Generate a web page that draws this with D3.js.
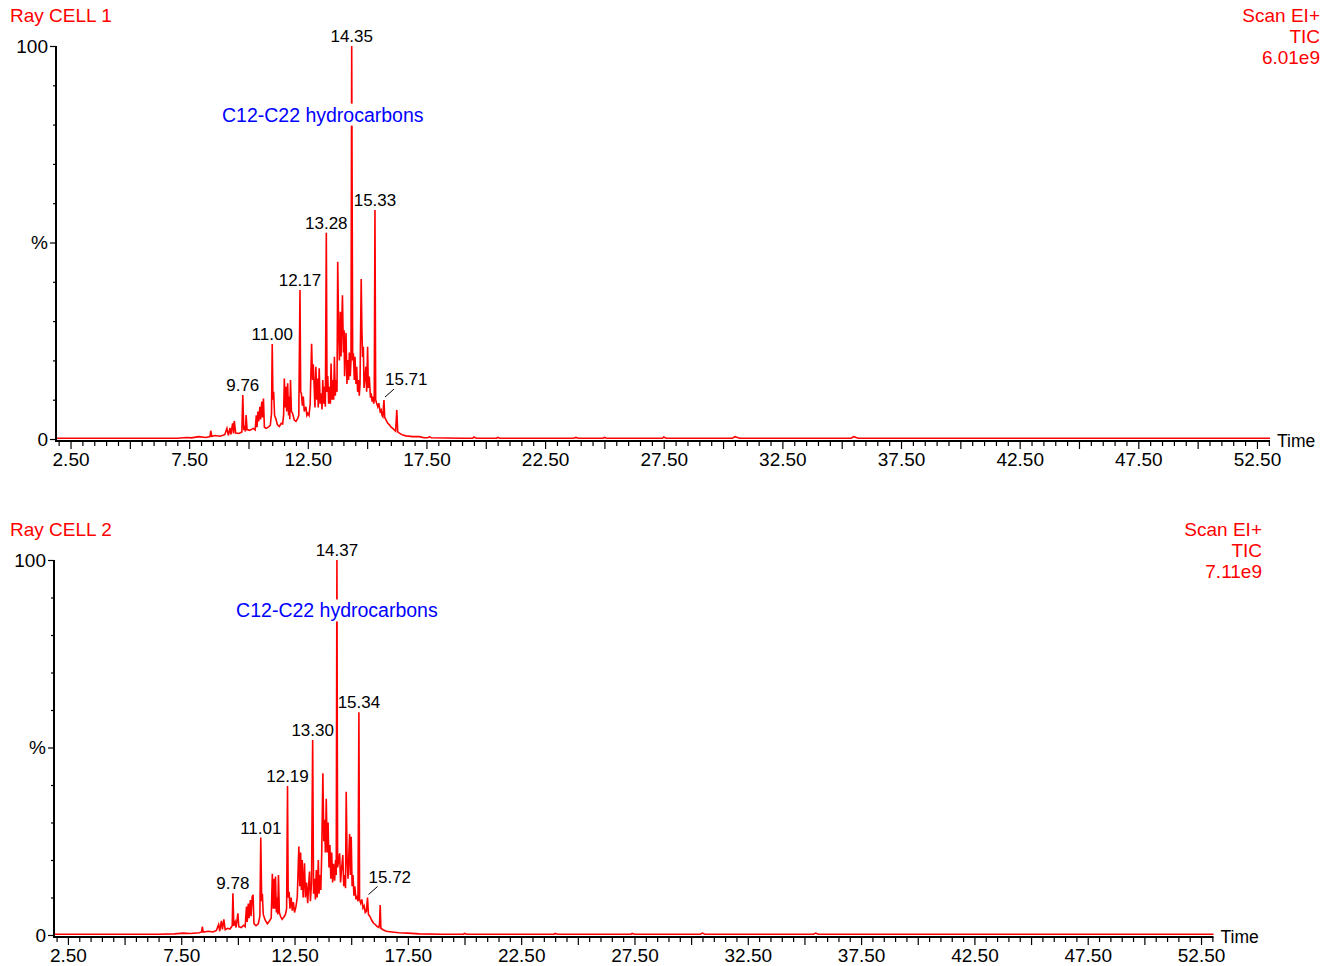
<!DOCTYPE html>
<html>
<head>
<meta charset="utf-8">
<script src="https://cdn.jsdelivr.net/npm/d3@7"></script>
<style>
  html, body { margin: 0; padding: 0; background: #fff; }
  svg { display: block; font-family: "Liberation Sans", Arial, sans-serif; }
</style>
</head>
<body>
<svg id="chart" width="1330" height="966"></svg>
<script>
// ---------------- DATA ----------------
const panelTitles = ["Ray CELL 1", "Ray CELL 2"];
const scanInfo = ["Scan EI+", "TIC"];
const ticIntensity = ["6.01e9", "7.11e9"];
const compoundNote = "C12-C22 hydrocarbons";
const timeDomain = [1.93, 53.05];
const xLabelTicks = [2.5, 7.5, 12.5, 17.5, 22.5, 27.5, 32.5, 37.5, 42.5, 47.5, 52.5];
const yTickLabels = [[0, "0"], [50, "%"], [100, "100"]];

// TIC trace, Ray CELL 1: [time (min), relative intensity (%)]
const cell1Trace = [
  [1.93, 0.2], [7.0, 0.2], [7.4, 0.4], [7.6, 0.3], [7.9, 0.6], [8.2, 0.4], [8.38, 0.6], [8.41, 2.1], [8.45, 0.7],
  [8.6, 0.9], [8.8, 0.7], [9.0, 1.1], [9.09, 2.7], [9.15, 0.9], [9.22, 2.8], [9.26, 1.2], [9.33, 4.0], [9.37, 1.4],
  [9.40, 4.6], [9.46, 1.5], [9.6, 1.4], [9.72, 1.8], [9.76, 11.2], [9.80, 2.3], [9.84, 2.9], [9.87, 1.9], [9.90, 6.1],
  [9.94, 2.4], [10.05, 2.2], [10.2, 2.7], [10.28, 2.3], [10.33, 6.0], [10.36, 3.0], [10.40, 7.0], [10.43, 4.5],
  [10.48, 8.2], [10.51, 5.0], [10.56, 9.5], [10.59, 5.5], [10.63, 10.3], [10.67, 3.0], [10.75, 2.7], [10.85, 3.1],
  [10.92, 3.5], [10.97, 6.5], [11.00, 24.2], [11.03, 10.0], [11.06, 12.0], [11.10, 6.0], [11.16, 5.0], [11.22, 3.6],
  [11.30, 3.2], [11.38, 4.0], [11.44, 3.8], [11.48, 6.0], [11.51, 15.4], [11.55, 8.0], [11.58, 13.3], [11.61, 7.0],
  [11.65, 14.2], [11.69, 6.0], [11.72, 10.8], [11.74, 5.0], [11.77, 15.0], [11.81, 7.0], [11.86, 6.5], [11.93, 4.8],
  [12.00, 4.5], [12.07, 5.2], [12.12, 6.0], [12.17, 37.9], [12.20, 12.0], [12.23, 11.6], [12.27, 8.5], [12.31, 10.8],
  [12.35, 7.0], [12.42, 8.2], [12.46, 6.0], [12.50, 6.5], [12.55, 6.0], [12.60, 9.0], [12.66, 24.2], [12.70, 15.0],
  [12.73, 19.0], [12.77, 13.3], [12.80, 8.0], [12.84, 18.4], [12.88, 10.0], [12.91, 15.4], [12.94, 8.0], [12.98, 18.0],
  [13.02, 9.0], [13.06, 11.6], [13.10, 7.5], [13.13, 15.0], [13.17, 9.0], [13.20, 13.3], [13.24, 8.2], [13.28, 52.5],
  [13.31, 12.0], [13.34, 16.0], [13.38, 9.0], [13.41, 13.3], [13.45, 9.0], [13.48, 19.2], [13.52, 10.0], [13.55, 15.0],
  [13.59, 10.0], [13.62, 20.9], [13.66, 11.0], [13.69, 15.0], [13.73, 12.0], [13.76, 45.1], [13.80, 27.7], [13.83, 20.0],
  [13.87, 32.4], [13.90, 21.0], [13.93, 29.4], [13.96, 36.6], [14.00, 22.0], [14.03, 27.7], [14.05, 16.0], [14.08, 21.8],
  [14.11, 27.0], [14.15, 14.0], [14.18, 20.1], [14.22, 15.0], [14.25, 22.0], [14.29, 16.0], [14.32, 20.0], [14.35, 100],
  [14.39, 20.0], [14.42, 21.8], [14.46, 15.0], [14.49, 20.9], [14.53, 14.0], [14.56, 18.4], [14.60, 12.0], [14.63, 15.0],
  [14.67, 11.0], [14.70, 14.0], [14.75, 40.7], [14.78, 27.7], [14.81, 20.9], [14.84, 23.5], [14.87, 13.0], [14.90, 15.0],
  [14.95, 18.4], [14.98, 12.0], [15.02, 23.5], [15.05, 13.0], [15.09, 15.9], [15.14, 10.5], [15.17, 11.6], [15.21, 9.5],
  [15.24, 10.8], [15.28, 9.0], [15.30, 10.0], [15.33, 58.3], [15.36, 10.0], [15.40, 9.1], [15.45, 8.2], [15.49, 9.1],
  [15.55, 7.0], [15.59, 7.4], [15.63, 6.0], [15.66, 5.7], [15.71, 9.9], [15.74, 5.5], [15.80, 4.8], [15.87, 4.0],
  [15.94, 3.6], [16.01, 3.0], [16.08, 2.7], [16.15, 2.3], [16.20, 2.0], [16.25, 7.4], [16.29, 1.8], [16.36, 1.5],
  [16.50, 1.0], [16.64, 0.8], [16.92, 0.6], [17.2, 0.6], [17.4, 0.3], [17.55, 0.3], [17.63, 0.6], [17.7, 0.3],
  [19.0, 0.2], [19.45, 0.2], [19.5, 0.5], [19.6, 0.2], [20.45, 0.2], [20.5, 0.4], [20.6, 0.2], [23.7, 0.2], [23.8, 0.4],
  [23.9, 0.2], [24.95, 0.2], [25.0, 0.4], [25.1, 0.2], [27.45, 0.2], [27.5, 0.5], [27.6, 0.2], [30.4, 0.2],
  [30.5, 0.6], [30.7, 0.2], [35.4, 0.2], [35.5, 0.6], [35.7, 0.2], [53.05, 0.2]
];
const cell1PeakTimes = [9.76, 11.00, 12.17, 13.28, 14.35, 15.33, 15.71];
const cell1PeakLabels = ["9.76", "11.00", "12.17", "13.28", "14.35", "15.33", "15.71"];
const cell1NoteAt = [13.13, 82.5];

// TIC trace, Ray CELL 2
const cell2Trace = [
  [1.93, 0.2], [6.5, 0.2], [7.2, 0.3], [7.6, 0.5], [7.9, 0.4], [8.3, 0.6], [8.40, 0.8], [8.43, 2.2], [8.47, 0.8],
  [8.7, 1.0], [8.9, 0.8], [9.05, 1.2], [9.15, 2.8], [9.2, 1.0], [9.27, 3.8], [9.32, 1.5], [9.38, 4.2], [9.44, 1.4],
  [9.55, 1.8], [9.65, 1.6], [9.75, 2.5], [9.78, 11.1], [9.82, 2.5], [9.88, 3.5], [9.92, 2.0], [10.00, 5.8], [10.04, 2.2],
  [10.15, 2.0], [10.25, 2.6], [10.32, 2.2], [10.38, 7.6], [10.41, 3.5], [10.46, 8.4], [10.49, 4.5], [10.55, 9.3],
  [10.58, 5.0], [10.63, 10.2], [10.67, 10.7], [10.71, 3.0], [10.80, 2.5], [10.90, 3.0], [10.97, 5.0], [11.01, 26.0],
  [11.05, 9.0], [11.08, 11.0], [11.12, 5.5], [11.2, 4.0], [11.3, 3.0], [11.4, 3.8], [11.47, 4.5], [11.52, 16.3],
  [11.56, 7.0], [11.60, 15.0], [11.63, 7.0], [11.66, 15.6], [11.70, 6.0], [11.73, 10.0], [11.76, 5.5], [11.79, 16.0],
  [11.83, 6.0], [11.88, 5.0], [11.95, 4.2], [12.03, 4.8], [12.10, 5.5], [12.15, 7.0], [12.19, 39.7], [12.22, 10.0],
  [12.26, 11.5], [12.30, 7.0], [12.35, 10.0], [12.40, 6.5], [12.45, 8.8], [12.50, 6.0], [12.56, 7.5], [12.62, 10.0],
  [12.69, 23.6], [12.73, 13.0], [12.77, 22.0], [12.80, 12.0], [12.84, 20.0], [12.88, 10.0], [12.94, 19.1], [12.98, 10.0],
  [13.03, 14.0], [13.08, 8.5], [13.12, 13.0], [13.16, 16.9], [13.20, 9.0], [13.25, 14.0], [13.30, 52.0], [13.34, 11.0],
  [13.38, 15.0], [13.42, 9.5], [13.46, 17.3], [13.50, 10.0], [13.55, 20.0], [13.58, 11.0], [13.62, 16.0], [13.66, 12.0],
  [13.70, 22.0], [13.75, 43.1], [13.79, 25.0], [13.83, 30.7], [13.86, 22.0], [13.90, 36.3], [13.94, 22.0], [13.98, 30.0],
  [14.02, 18.0], [14.06, 24.0], [14.10, 15.0], [14.14, 22.0], [14.18, 14.0], [14.22, 19.0], [14.27, 14.5], [14.31, 20.0],
  [14.34, 16.0], [14.37, 100], [14.40, 18.0], [14.45, 20.0], [14.49, 21.8], [14.53, 14.0], [14.58, 18.0], [14.63, 21.3],
  [14.67, 13.0], [14.71, 16.0], [14.75, 12.5], [14.78, 38.2], [14.82, 20.0], [14.86, 15.0], [14.90, 22.0], [14.93, 26.9],
  [14.96, 16.0], [15.00, 26.2], [15.04, 13.0], [15.08, 16.0], [15.12, 10.5], [15.16, 13.0], [15.21, 9.5], [15.26, 10.5],
  [15.30, 9.0], [15.34, 59.4], [15.37, 9.5], [15.42, 8.5], [15.47, 9.5], [15.52, 7.2], [15.57, 7.8], [15.62, 6.0],
  [15.67, 6.3], [15.72, 10.0], [15.76, 5.5], [15.82, 5.0], [15.90, 4.0], [15.98, 3.2], [16.06, 2.8], [16.14, 2.3],
  [16.22, 2.0], [16.25, 3.0], [16.28, 8.0], [16.31, 1.8], [16.40, 1.4], [16.55, 1.0], [16.8, 0.8], [17.1, 0.6],
  [17.5, 0.5], [18.0, 0.3], [19.0, 0.2], [19.95, 0.2], [20.0, 0.4], [20.1, 0.2], [23.95, 0.2], [24.0, 0.4], [24.1, 0.2],
  [27.35, 0.2], [27.4, 0.4], [27.5, 0.2], [30.4, 0.2], [30.5, 0.5], [30.6, 0.2], [35.4, 0.2], [35.5, 0.5], [35.6, 0.2],
  [53.05, 0.2]
];
const cell2PeakTimes = [9.78, 11.01, 12.19, 13.30, 14.37, 15.34, 15.72];
const cell2PeakLabels = ["9.78", "11.01", "12.19", "13.30", "14.37", "15.34", "15.72"];
const cell2NoteAt = [14.37, 86.5];

// ---------------- LAYOUT ----------------
const RED = "#ff0000", BLUE = "#0000ff";
const panels = [
  { title: panelTitles[0], tic: ticIntensity[0], trace: cell1Trace, peakTimes: cell1PeakTimes, peakLabels: cell1PeakLabels,
    note: cell1NoteAt, xRange: [57, 1270], yRange: [439, 46], axisY: 441, yAxisX: 56, titleBase: 22, headRight: 1320 },
  { title: panelTitles[1], tic: ticIntensity[1], trace: cell2Trace, peakTimes: cell2PeakTimes, peakLabels: cell2PeakLabels,
    note: cell2NoteAt, xRange: [55, 1213.5], yRange: [935, 560], axisY: 937, yAxisX: 54, titleBase: 536, headRight: 1262 }
];

const svg = d3.select("#chart");

panels.forEach((p, pi) => {
  const g = svg.append("g");
  const x = d3.scaleLinear().domain(timeDomain).range(p.xRange);
  const y = d3.scaleLinear().domain([0, 100]).range(p.yRange);

  // Titles
  g.append("text").attr("x", 10).attr("y", p.titleBase).attr("fill", RED)
    .attr("font-size", 19).text(p.title);
  [scanInfo[0], scanInfo[1], p.tic].forEach((s, i) => {
    g.append("text").attr("x", p.headRight).attr("y", p.titleBase + i * 21)
      .attr("text-anchor", "end").attr("fill", RED).attr("font-size", 19).text(s);
  });

  // X axis: minor ticks (0.5), major ticks (2.5), labels at 2.5 + 5k
  const minorTicks = d3.range(2, 53.01, 0.5).filter(v => Math.abs(v / 2.5 - Math.round(v / 2.5)) > 1e-6);
  const majorTicks = d3.range(2.5, 53.01, 2.5);
  const axG = g.append("g").attr("transform", `translate(0,${p.axisY})`);
  axG.append("g").call(d3.axisBottom(x).tickValues(minorTicks).tickSize(5).tickFormat(""))
    .call(s => s.select(".domain").remove())
    .call(s => s.selectAll("line").attr("stroke", "#000").attr("stroke-width", 1.2));
  axG.append("g").call(d3.axisBottom(x).tickValues(majorTicks).tickSize(8)
      .tickFormat(v => xLabelTicks.some(l => Math.abs(l - v) < 1e-6) ? d3.format(".2f")(v) : ""))
    .call(s => s.select(".domain").remove())
    .call(s => s.selectAll("line").attr("stroke", "#000").attr("stroke-width", 1.2))
    .call(s => s.selectAll("text").attr("font-size", 19).attr("fill", "#000")
      .attr("font-family", "Liberation Sans, Arial, sans-serif").attr("y", 12).attr("dy", "0.71em"));
  axG.append("line").attr("x1", p.xRange[0]).attr("x2", p.xRange[1]).attr("y1", 0).attr("y2", 0)
    .attr("stroke", "#000").attr("stroke-width", 2);
  g.append("text").attr("x", p.xRange[1] + 7).attr("y", p.axisY + 6).attr("font-size", 17.5)
    .attr("fill", "#000").text("Time");

  // Y axis
  const yAx = g.append("g").attr("transform", `translate(${p.yAxisX},0)`);
  yAx.append("g").call(d3.axisLeft(y).tickValues(d3.range(0, 101, 10).filter(v => v % 50 !== 0)).tickSize(3).tickFormat(""))
    .call(s => s.select(".domain").remove())
    .call(s => s.selectAll("line").attr("stroke", "#000").attr("stroke-width", 1.2));
  yAx.append("g").call(d3.axisLeft(y).tickValues(yTickLabels.map(d => d[0])).tickSize(6)
      .tickFormat(v => yTickLabels.find(d => d[0] === v)[1]))
    .call(s => s.select(".domain").remove())
    .call(s => s.selectAll("line").attr("stroke", "#000").attr("stroke-width", 1.2))
    .call(s => s.selectAll("text").attr("font-size", 19).attr("fill", "#000")
      .attr("font-family", "Liberation Sans, Arial, sans-serif").attr("x", -8));
  yAx.append("line").attr("x1", 0).attr("x2", 0).attr("y1", y(100)).attr("y2", p.axisY + 1)
    .attr("stroke", "#000").attr("stroke-width", 2);

  // Trace
  const line = d3.line().x(d => x(d[0])).y(d => y(d[1]));
  g.append("path").datum(p.trace).attr("d", line).attr("fill", "none")
    .attr("stroke", RED).attr("stroke-width", 1.6).attr("stroke-linejoin", "miter");

  // Compound note (white box over the trace)
  const noteG = g.append("g");
  const noteText = noteG.append("text").attr("x", x(p.note[0])).attr("y", y(p.note[1]))
    .attr("text-anchor", "middle").attr("dy", "0.35em").attr("fill", BLUE).attr("font-size", 19.5).text(compoundNote);
  const bb = noteText.node().getBBox();
  noteG.insert("rect", "text").attr("x", bb.x - 2).attr("y", bb.y).attr("width", bb.width + 4)
    .attr("height", bb.height).attr("fill", "#fff");

  // Peak labels
  p.peakTimes.forEach((t, i) => {
    const v = p.trace.find(d => Math.abs(d[0] - t) < 1e-6)[1];
    const px = x(t), py = y(v);
    const isLeader = i === p.peakTimes.length - 1;
    if (isLeader) {
      g.append("line").attr("x1", px + 1).attr("y1", py - 3).attr("x2", px + 10).attr("y2", py - 11)
        .attr("stroke", "#000").attr("stroke-width", 1);
      g.append("text").attr("x", px + 1).attr("y", py - 15).attr("font-size", 17).attr("fill", "#000")
        .text(p.peakLabels[i]);
    } else {
      g.append("text").attr("x", px).attr("y", py - 4).attr("text-anchor", "middle")
        .attr("font-size", 17).attr("fill", "#000").text(p.peakLabels[i]);
    }
  });
});
</script>
</body>
</html>
